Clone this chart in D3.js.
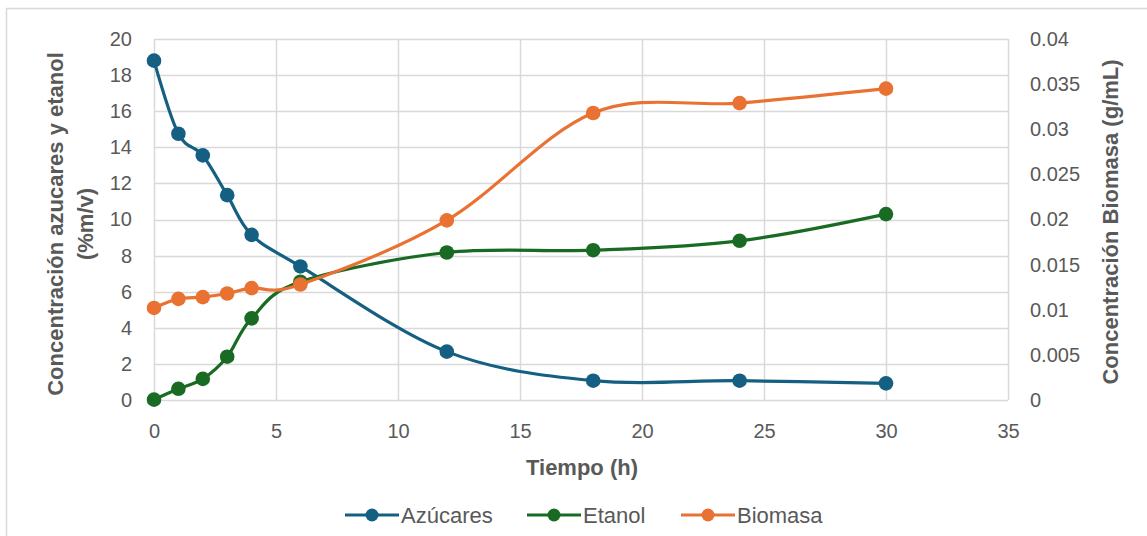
<!DOCTYPE html>
<html>
<head>
<meta charset="utf-8">
<script src="https://cdn.jsdelivr.net/npm/d3@7"></script>
<style>
  html, body { margin: 0; padding: 0; background: #fff; }
  svg { display: block; font-family: "Liberation Sans", Arial, sans-serif; }
</style>
</head>
<body>
<svg id="chart" width="1147" height="536"></svg>
<script>
// Sampling times (h)
const tiempo = [0, 1, 2, 3, 4, 6, 12, 18, 24, 30];
// Sugars and ethanol, %m/v (left axis)
const azucares = [18.8, 14.75, 13.55, 11.35, 9.15, 7.4, 2.68, 1.07, 1.07, 0.92];
const etanol = [0.02, 0.62, 1.17, 2.4, 4.52, 6.55, 8.17, 8.3, 8.82, 10.3];
// Biomass, g/mL (right axis)
const biomasa = [0.0102, 0.0112, 0.0114, 0.0118, 0.0124, 0.0128, 0.0199, 0.0318, 0.0329, 0.0345];

const xTicks = [0, 5, 10, 15, 20, 25, 30, 35];
const yLeftTicks = [0, 2, 4, 6, 8, 10, 12, 14, 16, 18, 20];
const yRightTicks = [0, 0.005, 0.01, 0.015, 0.02, 0.025, 0.03, 0.035, 0.04];

const series = [
  { name: "Azúcares", values: azucares, axis: "left", color: "#156082" },
  { name: "Etanol", values: etanol, axis: "left", color: "#196B24" },
  { name: "Biomasa", values: biomasa, axis: "right", color: "#E97132" }
];

const svg = d3.select("#chart");
const textColor = "#595959";
const gridColor = "#D9D9D9";

// Outer chart frame
svg.append("rect")
  .attr("x", 6.5).attr("y", 8.5)
  .attr("width", 1150).attr("height", 540)
  .attr("fill", "#fff").attr("stroke", "#D9D9D9").attr("stroke-width", 1.5);

const plot = { left: 154, right: 1008, top: 39, bottom: 400 };

const x = d3.scaleLinear().domain([0, 35]).range([plot.left, plot.right]);
const yL = d3.scaleLinear().domain([0, 20]).range([plot.bottom, plot.top]);
const yR = d3.scaleLinear().domain([0, 0.04]).range([plot.bottom, plot.top]);

// Gridlines
const grid = svg.append("g");
grid.selectAll("line.h").data(yLeftTicks).join("line")
  .attr("x1", plot.left).attr("x2", plot.right)
  .attr("y1", d => Math.round(yL(d)) + 0.5).attr("y2", d => Math.round(yL(d)) + 0.5)
  .attr("stroke", gridColor).attr("stroke-width", 1.5);
grid.selectAll("line.v").data(xTicks).join("line")
  .attr("y1", plot.top).attr("y2", plot.bottom)
  .attr("x1", d => Math.round(x(d)) + 0.5).attr("x2", d => Math.round(x(d)) + 0.5)
  .attr("stroke", gridColor).attr("stroke-width", 1.5);

// Axes (labels only, no domain lines)
const fs = 20;
const xAxis = svg.append("g")
  .attr("transform", `translate(0,${plot.bottom})`)
  .call(d3.axisBottom(x).tickValues(xTicks).tickSize(0).tickPadding(24).tickFormat(d3.format("d")));
const yAxisL = svg.append("g")
  .attr("transform", `translate(${plot.left},0)`)
  .call(d3.axisLeft(yL).tickValues(yLeftTicks).tickSize(0).tickPadding(22).tickFormat(d3.format("d")));
const yAxisR = svg.append("g")
  .attr("transform", `translate(${plot.right},0)`)
  .call(d3.axisRight(yR).tickValues(yRightTicks).tickSize(0).tickPadding(22).tickFormat(d => d === 0 ? "0" : String(+d.toFixed(3))));
[xAxis, yAxisL, yAxisR].forEach(a => {
  a.select(".domain").remove();
  a.selectAll("text").attr("fill", textColor).style("font-size", fs + "px")
    .style("font-family", "'Liberation Sans', Arial, sans-serif");
});

// Axis titles
const titleSize = "22px";
svg.append("text")
  .attr("x", 582).attr("y", 475)
  .attr("text-anchor", "middle").attr("fill", textColor)
  .style("font-size", titleSize).style("font-weight", "bold")
  .text("Tiempo (h)");

const leftTitle = svg.append("text")
  .attr("transform", "translate(63,224) rotate(-90)")
  .attr("text-anchor", "middle").attr("fill", textColor)
  .style("font-size", titleSize).style("font-weight", "bold");
leftTitle.append("tspan").attr("x", 0).attr("dy", 0).text("Concentración azucares y etanol");
leftTitle.append("tspan").attr("x", 0).attr("dy", 30).text("(%m/v)");

svg.append("text")
  .attr("transform", "translate(1118,222) rotate(-90)")
  .attr("text-anchor", "middle").attr("fill", textColor)
  .style("font-size", titleSize).style("font-weight", "bold")
  .text("Concentración Biomasa (g/mL)");

// Series: smoothed lines with circular markers
const curve = d3.curveCatmullRom.alpha(0);
series.forEach(s => {
  const yS = s.axis === "left" ? yL : yR;
  const pts = tiempo.map((t, i) => [x(t), yS(s.values[i])]);
  svg.append("path")
    .attr("d", d3.line().curve(curve)(pts))
    .attr("fill", "none").attr("stroke", s.color)
    .attr("stroke-width", 3.2).attr("stroke-linejoin", "round").attr("stroke-linecap", "round");
  svg.append("g").selectAll("circle").data(pts).join("circle")
    .attr("cx", d => d[0]).attr("cy", d => d[1]).attr("r", 7.3)
    .attr("fill", s.color);
});

// Legend
const legendItems = [
  { x: 345, s: series[0] },
  { x: 527, s: series[1] },
  { x: 681, s: series[2] }
];
const ly = 515;
legendItems.forEach(({ x: lx, s }) => {
  const g = svg.append("g");
  g.append("line").attr("x1", lx).attr("x2", lx + 54).attr("y1", ly).attr("y2", ly)
    .attr("stroke", s.color).attr("stroke-width", 3.2);
  g.append("circle").attr("cx", lx + 27).attr("cy", ly).attr("r", 6.5).attr("fill", s.color);
  g.append("text").attr("x", lx + 56).attr("y", ly).attr("dy", "0.35em")
    .attr("fill", textColor).style("font-size", "22px").text(s.name);
});
</script>
</body>
</html>
